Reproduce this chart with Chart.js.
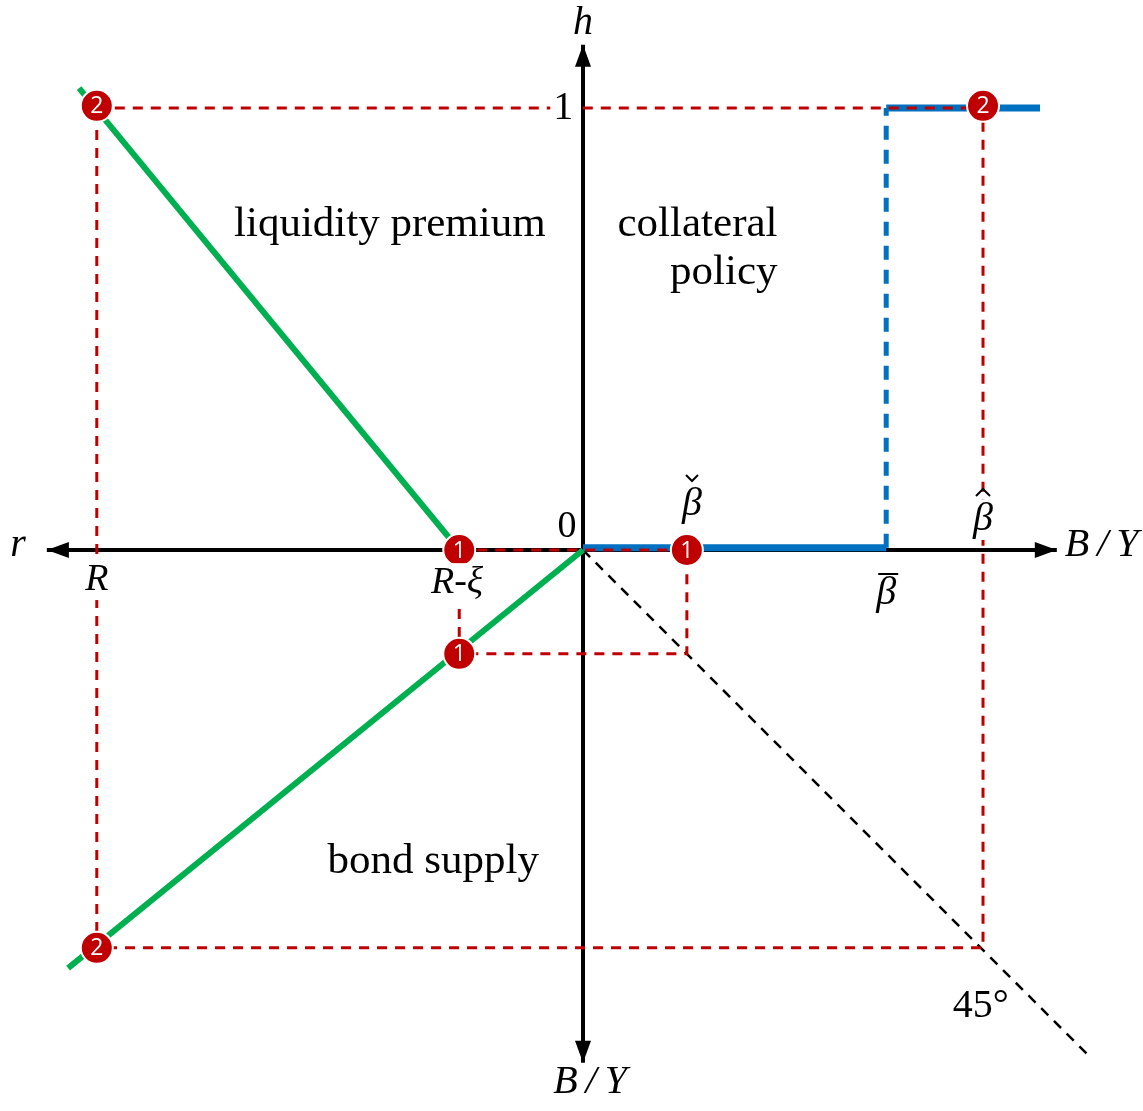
<!DOCTYPE html>
<html>
<head>
<meta charset="utf-8">
<script src="https://cdn.jsdelivr.net/npm/chart.js@4"></script>
<style>
  html, body { margin: 0; padding: 0; background: #fff; }
  canvas { display: block; }
</style>
</head>
<body>
<canvas id="c" width="1143" height="1111"></canvas>
<script>
// curve values (x = r or B/Y, y = h or B/Y)
const premiumX = [-1.14, -0.28];
const premiumY = [1.045, 0];
const supplyX = [0, -1.165];
const supplyY = [0, -0.946];
const policyX = [0, 0.686, 0.686, 1.034];
const policyY = [0.005, 0.005, 1, 1];
const diagX = [0, 1.147];
const diagY = [0, -1.147];
// equilibria 1 and 2
const eq1X = [-0.28, 0.235, -0.28];
const eq1Y = [0, 0, -0.235];
const eq2X = [-1.1, 0.905, -1.1];
const eq2Y = [1.005, 1.005, -0.9];
// axes extent
const axisX = [-1.213, 1.072];
const axisY = [-1.16, 1.143];

const pts = (xs, ys) => xs.map((x, i) => ({x: x, y: ys[i]}));

// dashed guides built from the equilibrium points
const guide1 = pts([eq1X[0], 0, eq1X[1], eq1X[1], eq1X[2], eq1X[2]], [eq1Y[0], 0, eq1Y[1], eq1Y[2], eq1Y[2], eq1Y[0]]);
const guide2 = pts([eq2X[0], eq2X[1], eq2X[1], eq2X[2], eq2X[2]], [1, 1, eq2Y[2], eq2Y[2], 1]);

const RED = '#C00000';
const serif = '"Liberation Serif", "DejaVu Serif", serif';
const BY = 'B\u2009/\u2009Y';

// bg: white box behind the text, acc: accent drawn over a beta
const labels = [
    {t: 'h', x: 0, y: 1.192, f: 'italic 40px ' + serif},
    {t: 'r', x: -1.278, y: 0.01, f: 'italic 40px ' + serif},
    {t: BY, x: 1.09, y: 0.01, f: 'italic 40px ' + serif, a: 'left'},
    {t: BY, x: 0.016, y: -1.205, f: 'italic 40px ' + serif},
    {t: 'R', x: -1.1, y: -0.068, f: 'italic 38px ' + serif, bg: true},
    {t: 'R-ξ', x: -0.285, y: -0.075, f: 'italic 38px ' + serif, bg: true},
    {t: '0', x: -0.036, y: 0.052, f: '38px ' + serif},
    {t: '1', x: -0.022, y: 0.998, f: '40px ' + serif, a: 'right', bg: true},
    {t: 'β', x: 0.2466, y: 0.104, f: 'italic 40px ' + serif, acc: 'check'},
    {t: 'β', x: 0.686, y: -0.0995, f: 'italic 40px ' + serif, acc: 'bar'},
    {t: 'β', x: 0.905, y: 0.068, f: 'italic 40px ' + serif, acc: 'hat', bg: true},
    {t: 'liquidity premium', x: -0.437, y: 0.735, f: '43px ' + serif},
    {t: 'collateral', x: 0.44, y: 0.735, f: '43px ' + serif, a: 'right'},
    {t: 'policy', x: 0.44, y: 0.627, f: '43px ' + serif, a: 'right'},
    {t: 'bond supply', x: -0.339, y: -0.706, f: '43px ' + serif},
    {t: '45°', x: 0.9, y: -1.032, f: '40px ' + serif}
];

const decor = {
    id: 'decor',
    afterDatasetsDraw(chart) {
        const c = chart.ctx, sx = chart.scales.x, sy = chart.scales.y;
        const X = v => sx.getPixelForValue(v), Y = v => sy.getPixelForValue(v);
        c.save();
        // arrow heads
        c.fillStyle = '#000';
        const head = (x, y, dx, dy) => {
            const L = 22, W = 8;
            c.beginPath();
            c.moveTo(x, y);
            c.lineTo(x - dx * L - dy * W, y - dy * L + dx * W);
            c.lineTo(x - dx * L + dy * W, y - dy * L - dx * W);
            c.closePath();
            c.fill();
        };
        head(X(axisX[0]), Y(0), -1, 0);
        head(X(axisX[1]), Y(0), 1, 0);
        head(X(0), Y(axisY[1]), 0, -1);
        head(X(0), Y(axisY[0]), 0, 1);

        // text
        c.textBaseline = 'middle';
        labels.forEach(l => {
            const px = X(l.x), py = Y(l.y);
            c.font = l.f;
            c.textAlign = l.a || 'center';
            if (l.bg) {
                const w = c.measureText(l.t).width + 6;
                const x0 = c.textAlign === 'right' ? px - w + 3 : px - w / 2;
                c.fillStyle = '#fff';
                c.fillRect(x0, py - 20, w, 40);
            }
            c.fillStyle = '#000';
            c.fillText(l.t, px, py);
            if (l.acc) {
                c.strokeStyle = '#000';
                c.lineWidth = 2;
                c.beginPath();
                if (l.acc === 'check') {
                    c.moveTo(px - 6, py - 29); c.lineTo(px, py - 23); c.lineTo(px + 6, py - 29);
                } else if (l.acc === 'hat') {
                    c.moveTo(px - 7, py - 24); c.lineTo(px, py - 31); c.lineTo(px + 7, py - 24);
                } else {
                    c.moveTo(px - 8, py - 20); c.lineTo(px + 12, py - 20);
                }
                c.stroke();
            }
        });
        c.restore();
    },
    afterDraw(chart) {
        // numbers on the markers
        const c = chart.ctx, sx = chart.scales.x, sy = chart.scales.y;
        const X = v => sx.getPixelForValue(v), Y = v => sy.getPixelForValue(v);
        c.save();
        c.fillStyle = '#fff';
        c.font = '23px "Open Sans", sans-serif';
        c.textAlign = 'center';
        c.textBaseline = 'middle';
        eq1X.forEach((x, i) => c.fillText('1', X(x), Y(eq1Y[i]) + 1));
        eq2X.forEach((x, i) => c.fillText('2', X(x), Y(eq2Y[i]) + 1));
        c.restore();
    }
};

const line = (data, color, width, dash, order, extra) => Object.assign({
    data: data,
    showLine: true,
    borderColor: color,
    borderWidth: width,
    borderDash: dash || [],
    pointRadius: 0,
    fill: false,
    order: order
}, extra || {});

new Chart(document.getElementById('c'), {
    type: 'scatter',
    data: {
        datasets: [
            {
                data: pts(eq1X, eq1Y).concat(pts(eq2X, eq2Y)),
                pointRadius: 16,
                pointBackgroundColor: RED,
                pointBorderColor: '#fff',
                pointBorderWidth: 2,
                order: 0
            },
            line(pts(premiumX, premiumY), '#00B050', 6, null, 1),
            line(pts(supplyX, supplyY), '#00B050', 6, null, 1),
            line(guide1, RED, 3, [10, 8], 2),
            line(guide2, RED, 3, [10, 8], 2),
            line(pts(policyX, policyY), '#0070C0', 6, null, 3, {
                segment: {borderDash: s => s.p0DataIndex === 1 ? [14, 10] : undefined,
                          borderWidth: s => s.p0DataIndex === 1 ? 5 : 7}
            }),
            line(pts(diagX, diagY), '#000', 2.5, [10, 8], 4),
            line(pts(axisX, [0, 0]), '#000', 4, null, 5),
            line(pts([0, 0], axisY), '#000', 4, null, 5)
        ]
    },
    options: {
        responsive: false,
        animation: false,
        devicePixelRatio: 1,
        events: [],
        layout: {padding: 0, autoPadding: false},
        plugins: {legend: {display: false}, tooltip: {enabled: false}},
        scales: {
            x: {type: 'linear', display: false, min: -583 / 442, max: 560 / 442},
            y: {type: 'linear', display: false, min: -561 / 442, max: 550 / 442}
        }
    },
    plugins: [decor]
});
</script>
</body>
</html>
